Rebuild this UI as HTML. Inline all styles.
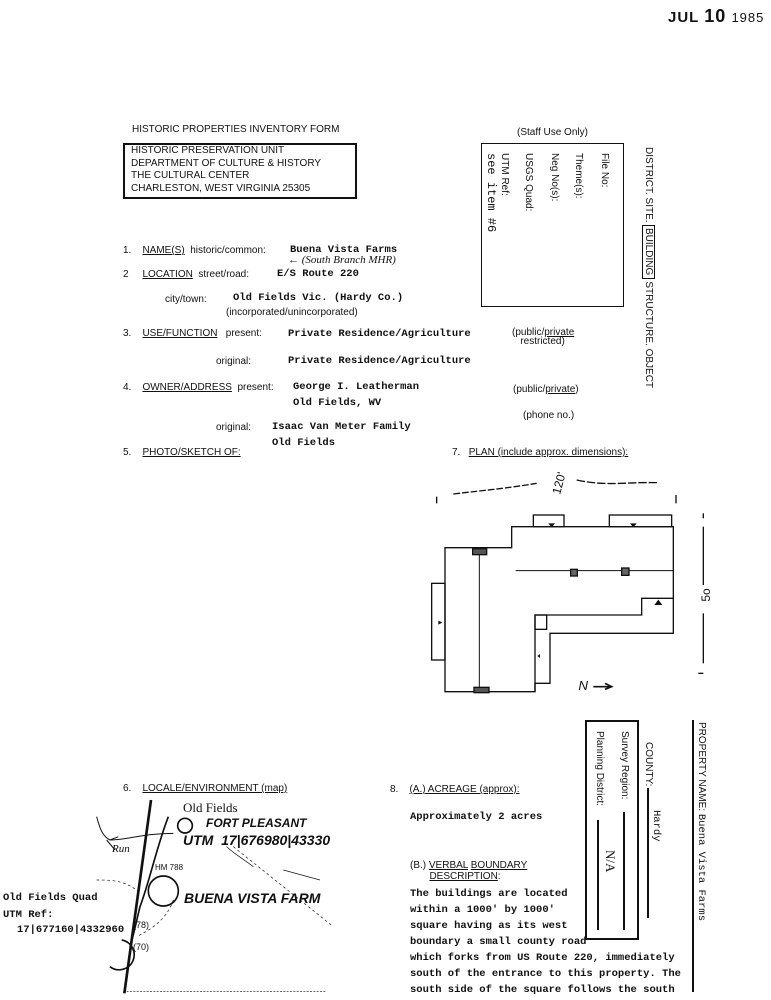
<!DOCTYPE html>
<html><head><meta charset="utf-8"><style>
body{margin:0;background:#fff;}
#p{position:relative;width:771px;height:1000px;overflow:hidden;background:#fff;color:#111;font-family:"Liberation Sans",sans-serif;font-size:10px;}
.a{position:absolute;white-space:nowrap;}
.m{font-family:"Liberation Mono",monospace;font-weight:bold;font-size:10.5px;}
.u{text-decoration:underline;}
.v{writing-mode:vertical-rl;}
</style></head><body><div id="p">
<div class="a" style="left:668px;top:6px;font-size:15px;font-weight:bold;letter-spacing:1px">JUL <span style="font-size:18px">10</span> <span style="font-weight:normal;font-size:13px">1985</span></div>

<div class="a" style="left:132px;top:124px">HISTORIC PROPERTIES INVENTORY FORM</div>
<div class="a" style="left:123px;top:143px;width:230px;height:52px;border:2px solid #111;"></div>
<div class="a" style="left:131px;top:145px;line-height:12.5px">HISTORIC PRESERVATION UNIT<br>DEPARTMENT OF CULTURE &amp; HISTORY<br>THE CULTURAL CENTER<br>CHARLESTON, WEST VIRGINIA 25305</div>

<div class="a" style="left:517px;top:127px">(Staff Use Only)</div>
<div class="a" style="left:481px;top:143px;width:141px;height:162px;border:1.5px solid #111;"></div>
<div class="a v" style="left:599px;top:153px">File No:</div>
<div class="a v" style="left:573px;top:153px">Theme(s):</div>
<div class="a v" style="left:549px;top:153px">Neg No(s):</div>
<div class="a v" style="left:523px;top:153px">USGS Quad:</div>
<div class="a v" style="left:499px;top:153px;line-height:10px">UTM Ref:</div>
<div class="a v m" style="left:484px;top:153px;font-weight:normal;font-size:12px">see item #6</div>
<div class="a v" style="left:643px;top:147px">DISTRICT. SITE. <span style="border:1px solid #111;padding:2px 0">BUILDING</span> STRUCTURE. OBJECT</div>

<div class="a" style="left:123px;top:245px">1.&nbsp;&nbsp;&nbsp;&nbsp;<span class="u">NAME(S)</span>&nbsp; historic/common:</div>
<div class="a m" style="left:290px;top:244px">Buena Vista Farms</div>
<div class="a" style="left:288px;top:254px;font-family:'Liberation Serif',serif;font-style:italic;font-size:11px">← (South Branch MHR)</div>
<div class="a" style="left:123px;top:269px">2&nbsp;&nbsp;&nbsp;&nbsp;&nbsp;<span class="u">LOCATION</span>&nbsp; street/road:</div>
<div class="a m" style="left:277px;top:268px">E/S Route 220</div>
<div class="a" style="left:165px;top:294px">city/town:</div>
<div class="a m" style="left:233px;top:292px">Old Fields Vic. (Hardy Co.)</div>
<div class="a" style="left:226px;top:307px">(incorporated/unincorporated)</div>
<div class="a" style="left:123px;top:328px">3.&nbsp;&nbsp;&nbsp;&nbsp;<span class="u">USE/FUNCTION</span>&nbsp;&nbsp; present:</div>
<div class="a m" style="left:288px;top:328px">Private Residence/Agriculture</div>
<div class="a" style="left:512px;top:328px;line-height:9px">(public/<span class="u">private</span><br>&nbsp;&nbsp;&nbsp;restricted)</div>
<div class="a" style="left:216px;top:356px">original:</div>
<div class="a m" style="left:288px;top:355px">Private Residence/Agriculture</div>
<div class="a" style="left:123px;top:382px">4.&nbsp;&nbsp;&nbsp;&nbsp;<span class="u">OWNER/ADDRESS</span>&nbsp; present:</div>
<div class="a m" style="left:293px;top:381px">George I. Leatherman</div>
<div class="a m" style="left:293px;top:397px">Old Fields, WV</div>
<div class="a" style="left:513px;top:384px">(public/<span class="u">private</span>)</div>
<div class="a" style="left:523px;top:410px">(phone no.)</div>
<div class="a" style="left:216px;top:422px">original:</div>
<div class="a m" style="left:272px;top:421px">Isaac Van Meter Family</div>
<div class="a m" style="left:272px;top:437px">Old Fields</div>
<div class="a" style="left:123px;top:447px">5.&nbsp;&nbsp;&nbsp;&nbsp;<span class="u">PHOTO/SKETCH OF:</span></div>
<div class="a" style="left:452px;top:447px">7.&nbsp;&nbsp; <span class="u">PLAN (include approx. dimensions):</span></div>

<svg class="a" style="left:420px;top:470px" width="351" height="230" viewBox="0 0 1053 690" fill="none" stroke="#111" stroke-width="4">
<path d="M100 72 C200 60 260 55 350 40" stroke-dasharray="20 6"/>
<path d="M470 30 C560 50 620 35 715 38" stroke-dasharray="25 6"/>
<line x1="50" y1="80" x2="50" y2="100"/><line x1="768" y1="75" x2="768" y2="100"/>
<text x="420" y="75" font-size="36" fill="#111" stroke="none" transform="rotate(-75 420 75)" font-family="Liberation Sans">120'</text>
<path d="M75 233 H275 V170 H760 V490 H390 V640 H345 V665 H75 Z"/>
<path d="M345 665 V435 H665 V385 H760"/>
<rect x="345" y="435" width="35" height="43"/>
<line x1="178" y1="233" x2="178" y2="665" stroke-width="3"/>
<line x1="287" y1="302" x2="760" y2="302" stroke-width="3"/>
<rect x="35" y="340" width="40" height="230"/>
<rect x="340" y="135" width="92" height="35"/><rect x="568" y="135" width="187" height="35"/>
<rect x="158" y="236" width="42" height="18" fill="#555"/><rect x="162" y="652" width="45" height="16" fill="#555"/>
<rect x="452" y="298" width="20" height="20" fill="#666"/><rect x="605" y="294" width="22" height="22" fill="#666"/>
<path d="M385 160 l10 12 l10 -12 z M630 160 l10 12 l10 -12 z M703 405 l12 -16 l12 16 z M55 452 l12 6 l-12 6 z M360 552 l-8 6 l8 6 z" fill="#111" stroke="none"/>
<line x1="850" y1="130" x2="850" y2="145"/><line x1="850" y1="170" x2="850" y2="345"/>
<line x1="850" y1="430" x2="850" y2="580"/><line x1="835" y1="610" x2="850" y2="610"/>
<text x="870" y="395" font-size="36" fill="#111" stroke="none" transform="rotate(-90 870 395)" font-family="Liberation Sans">5o</text>
<text x="475" y="660" font-size="40" fill="#111" stroke="none" font-family="Liberation Sans" font-style="italic">N</text>
<path d="M520 650 H570 M555 640 L575 650 L555 658" stroke-width="5"/>
</svg>

<div class="a" style="left:123px;top:783px">6.&nbsp;&nbsp;&nbsp;&nbsp;<span class="u">LOCALE/ENVIRONMENT (map)</span></div>
<svg class="a" style="left:0;top:780px" width="360" height="220" viewBox="0 0 1080 660" fill="none" stroke="#111" stroke-width="3">
<line x1="453" y1="60" x2="373" y2="640" stroke-width="8"/>
<path d="M505 110 C470 200 450 300 420 380 C410 420 400 470 390 500" stroke-width="5"/>
<path d="M290 110 C300 150 310 170 330 180 C380 180 430 160 520 160" />
<path d="M320 180 L345 210 M330 180 L355 170"/>
<circle cx="555" cy="137" r="22" stroke-width="5"/>
<circle cx="490" cy="333" r="45" stroke-width="5"/>
<path d="M330 560 A45 45 0 1 0 365 480" stroke-width="5"/>
<path d="M290 300 C330 300 380 300 420 340 M520 360 C500 420 450 450 410 470 M700 200 L1000 440" stroke-dasharray="8 8" stroke-width="2"/>
<path d="M680 200 C700 220 720 230 760 260 M850 270 L960 300" stroke-width="2"/>
<line x1="380" y1="635" x2="980" y2="635" stroke-width="2" stroke-dasharray="6 4"/>
</svg>
<div class="a" style="left:183px;top:800px;font-family:'Liberation Serif',serif;font-size:13px">Old Fields</div>
<div class="a" style="left:206px;top:816px;font-size:12px;font-weight:bold;font-style:italic">FORT PLEASANT</div>
<div class="a" style="left:183px;top:832px;font-size:14px;font-weight:bold;font-style:italic">UTM&nbsp; 17|676980|43330</div>
<div class="a" style="left:112px;top:843px;font-family:'Liberation Serif',serif;font-style:italic;font-size:11px">Run</div>
<div class="a" style="left:155px;top:863px;font-size:8px">HM 788</div>
<div class="a" style="left:184px;top:890px;font-size:14px;font-weight:bold;font-style:italic">BUENA VISTA FARM</div>
<div class="a m" style="left:3px;top:892px">Old Fields Quad</div>
<div class="a m" style="left:3px;top:909px">UTM Ref:</div>
<div class="a m" style="left:17px;top:924px">17|677160|4332960 ·</div>
<div class="a" style="left:133px;top:920px;font-size:9px">(78)</div>
<div class="a" style="left:133px;top:942px;font-size:9px">(70)</div>

<div class="a" style="left:390px;top:784px">8.&nbsp;&nbsp;&nbsp; <span class="u">(A.) ACREAGE (approx):</span></div>
<div class="a m" style="left:410px;top:811px">Approximately 2 acres</div>
<div class="a" style="left:410px;top:860px;line-height:11px">(B.) <span class="u">VERBAL</span> <span class="u">BOUNDARY</span><br>&nbsp;&nbsp;&nbsp;&nbsp;&nbsp;&nbsp;&nbsp;<span class="u">DESCRIPTION</span>:</div>
<div class="a m" style="left:410px;top:886px;line-height:16px">The buildings are located<br>within a 1000' by 1000'<br>square having as its west<br>boundary a small county road<br>which forks from US Route 220, immediately<br>south of the entrance to this property. The<br>south side of the square follows the south<br>edge entrance lane and includes all buildings in the complex</div>

<div class="a" style="left:585px;top:720px;width:50px;height:216px;border:2px solid #111;background:#fff"></div>
<div class="a v" style="left:643px;top:742px">COUNTY:</div>
<div class="a" style="left:647px;top:788px;width:0;height:130px;border-left:2px solid #111"></div>
<div class="a v m" style="left:650px;top:810px;font-weight:normal">Hardy</div>
<div class="a v" style="left:619px;top:731px">Survey Region:</div>
<div class="a" style="left:623px;top:812px;width:0;height:118px;border-left:2px solid #111"></div>
<div class="a v" style="left:594px;top:731px">Planning District:</div>
<div class="a" style="left:597px;top:820px;width:0;height:110px;border-left:2px solid #111"></div>
<div class="a v" style="left:602px;top:850px;font-family:'Liberation Serif',serif;font-size:13px">N/A</div>

<div class="a" style="left:692px;top:720px;width:0;height:272px;border-left:2px solid #111"></div>
<div class="a v" style="left:695px;top:722px">PROPERTY NAME: <span class="m" style="font-weight:normal">Buena Vista Farms</span></div>
</div></body></html>
